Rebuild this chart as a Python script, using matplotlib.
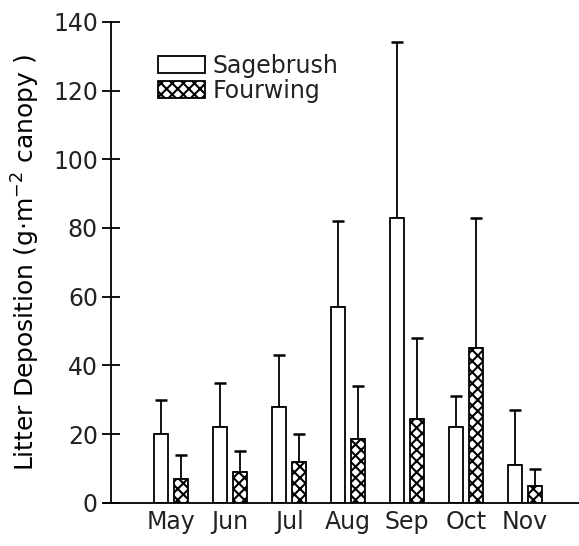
import matplotlib.pyplot as plt
import numpy as np

months = ['May', 'Jun', 'Jul', 'Aug', 'Sep', 'Oct', 'Nov']
sage_mean = [20, 22, 28, 57, 83, 22, 11]
sage_err = [10, 13, 15, 25, 51, 9, 16]
fourwing_mean = [7, 9, 12, 18.5, 24.5, 45, 5]
fourwing_err = [7, 6, 8, 15.5, 23.5, 38, 5]

plt.rcParams['font.family'] = 'DejaVu Sans'
plt.rcParams['hatch.linewidth'] = 1.5
plt.rcParams['text.color'] = '#222222'
plt.rcParams['xtick.labelcolor'] = '#222222'
plt.rcParams['ytick.labelcolor'] = '#222222'

fig = plt.figure(figsize=(5.79, 5.46), dpi=100)
ax = fig.add_axes([0.192, 0.079, 0.808, 0.881])

x = np.arange(len(months))
w = 0.24
off = 0.17

ax.bar(x - off, sage_mean, w, color='white', edgecolor='black', linewidth=1.3,
       label='Sagebrush', zorder=2)
ax.bar(x + off, fourwing_mean, w, color='white', edgecolor='black', linewidth=1.3,
       hatch='xxx', label='Fourwing', zorder=2)

# upper error bars only
ax.errorbar(x - off, sage_mean, yerr=[np.zeros(len(x)), sage_err], fmt='none',
            ecolor='black', elinewidth=1.3, capsize=4, capthick=1.8, zorder=1)
ax.errorbar(x + off, fourwing_mean, yerr=[np.zeros(len(x)), fourwing_err], fmt='none',
            ecolor='black', elinewidth=1.3, capsize=4, capthick=1.8, zorder=1)

ax.set_xlim(-1.02, 6.92)
ax.set_ylim(0, 140)
ax.set_yticks(range(0, 141, 20))
ax.set_xticks(x)
ax.set_xticklabels(months)

for s in ['top', 'right', 'bottom']:
    ax.spines[s].set_visible(False)
ax.spines['left'].set_linewidth(1.3)
ax.plot([-0.016, 1], [0, 0], transform=ax.transAxes, color='black',
        linewidth=1.3, clip_on=False)

ax.tick_params(axis='y', direction='inout', length=13, width=1.3,
               labelsize=17, pad=3)
ax.tick_params(axis='x', length=0, labelsize=17, pad=5)

ax.set_ylabel('Litter Deposition (g$\\cdot$m$^{-2}$ canopy )', fontsize=18,
              labelpad=8)

ax.legend(loc='upper left', bbox_to_anchor=(0.075, 0.958), frameon=False,
          fontsize=17, handlelength=2.0, handleheight=0.75, borderpad=0,
          labelspacing=0.05, handletextpad=0.3)

fig.savefig('out.png', dpi=100)
